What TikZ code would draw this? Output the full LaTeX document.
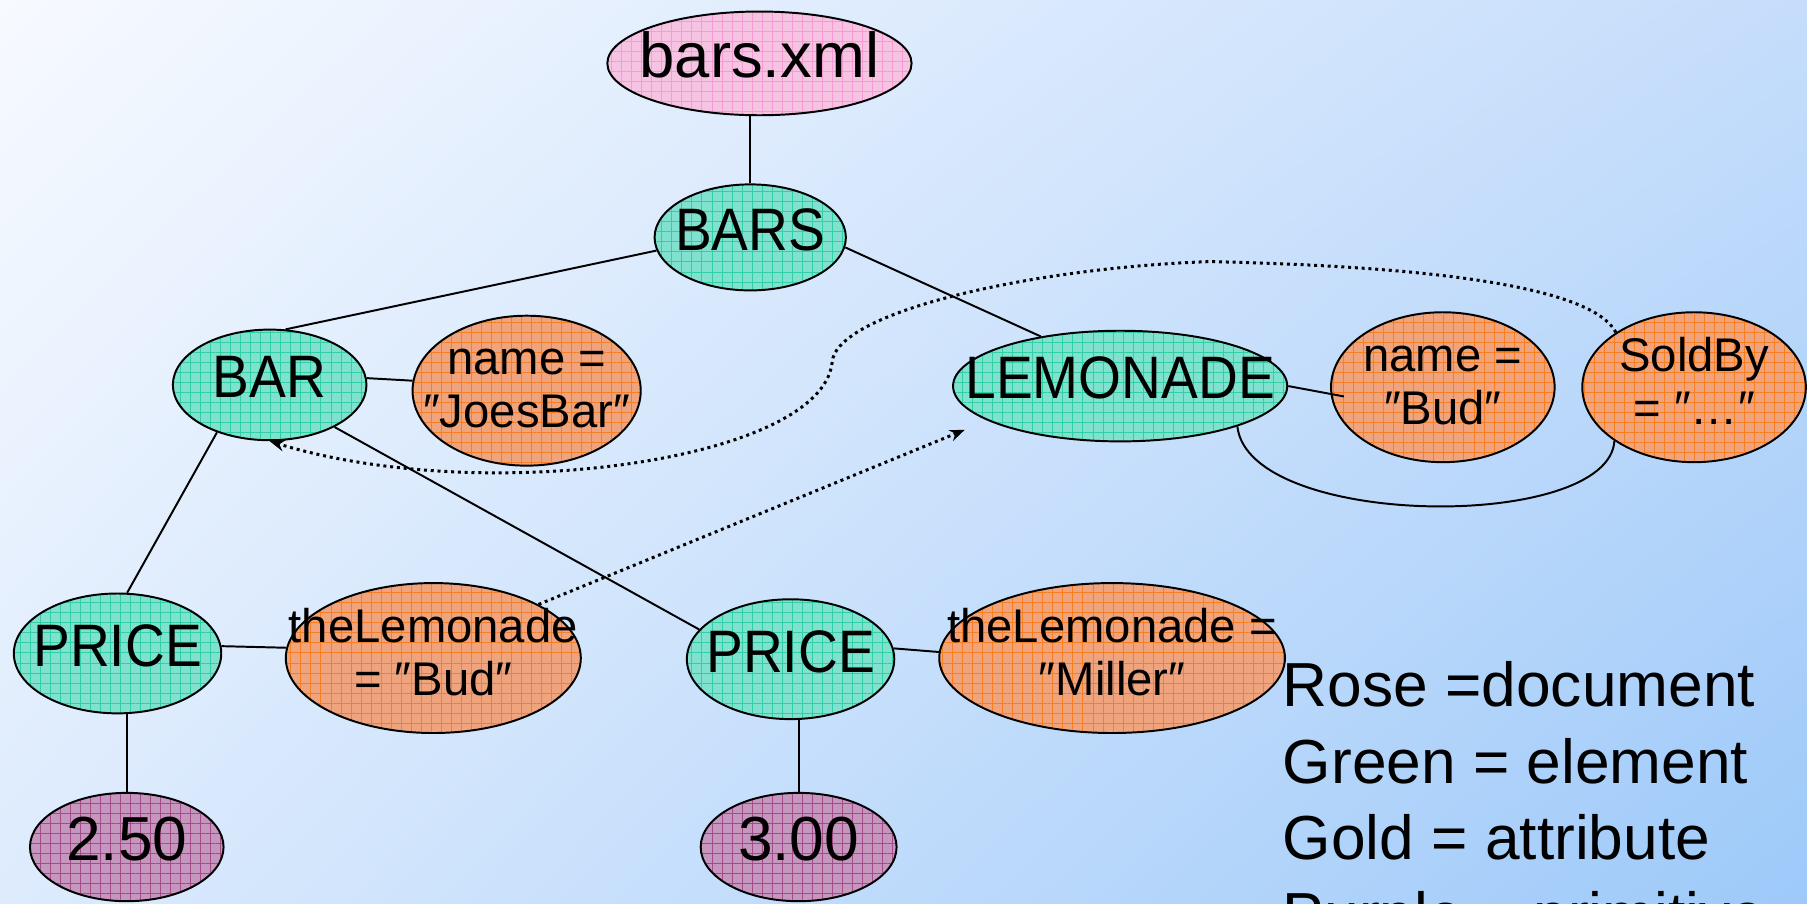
\documentclass[tikz,border=0pt]{standalone}
\usepackage{fontspec}
\setmainfont{Liberation Sans}
\newfontfamily\tagfont[FakeStretch=0.92]{Liberation Sans}
\usetikzlibrary{shapes.geometric, patterns.meta, arrows.meta, shadings}

\definecolor{bgul}{HTML}{F7FAFF}
\definecolor{bgur}{HTML}{C5DDFB}
\definecolor{bgll}{HTML}{DDEBFD}
\definecolor{bglr}{HTML}{9DC9F9}
\definecolor{rosefill}{HTML}{F7C3E3}
\definecolor{rosegrid}{HTML}{F59BD2}
\definecolor{elemfill}{HTML}{80E2CE}
\definecolor{elemgrid}{HTML}{30CFA6}
\definecolor{attrfill}{HTML}{EFA47E}
\definecolor{attrgrid}{HTML}{F87E22}
\definecolor{primfill}{HTML}{C596BE}
\definecolor{primgrid}{HTML}{A44C8A}

\newcommand{\lbl}[1]{\makebox[0pt]{\begin{tabular}{@{}c@{}}#1\end{tabular}}}

\begin{document}
\begin{tikzpicture}[x=1pt, y=-1pt, >={Stealth[length=13pt,width=10pt]},
  oval/.style={ellipse, draw, line width=1.7pt, inner sep=0pt},
  tone/.style 2 args={preaction={fill=#1},
    pattern={Hatch[angle=0,distance=8.7pt,line width=0.6pt]}, pattern color=#2},
  docnode/.style={oval, tone={rosefill}{rosegrid}, font=\fontsize{55}{60}\selectfont},
  elem/.style={oval, tone={elemfill}{elemgrid}, font=\tagfont\fontsize{52}{56}\selectfont},
  attr/.style={oval, tone={attrfill}{attrgrid}, font=\fontsize{41}{46}\selectfont},
  prim/.style={oval, tone={primfill}{primgrid}, font=\fontsize{54}{58}\selectfont},
  tie/.style={line width=1.7pt},
  link/.style={line width=2.6pt, dash pattern=on 2.6pt off 3.3pt}]

  \useasboundingbox (0,0) rectangle (1568,784);
  \clip (0,0) rectangle (1568,784);
  \shade[upper left=bgul, upper right=bgur, lower left=bgll, lower right=bglr]
    (0,0) rectangle (1568,784);

  \node[docnode, minimum width=264pt, minimum height=90pt]  (doc)     at (659,55)   {\lbl{bars.xml}};
  \node[elem, minimum width=166pt, minimum height=92pt]     (bars)    at (651,206)  {\lbl{BARS}};
  \node[elem, minimum width=168pt, minimum height=96pt]     (bar)     at (234,334)  {\lbl{BAR}};
  \node[attr, minimum width=198pt, minimum height=128pt]    (joes)    at (457,339)  {\lbl{name =\\″JoesBar″}};
  \node[elem, minimum width=290pt, minimum height=96pt]     (lem)     at (972,335)  {\lbl{LEMONADE}};
  \node[attr, minimum width=194pt, minimum height=130pt]    (budname) at (1252,336) {\lbl{name =\\″Bud″}};
  \node[attr, minimum width=194pt, minimum height=130pt]    (sold)    at (1470,336) {\lbl{SoldBy\\= ″…″}};
  \node[elem, minimum width=180pt, minimum height=104pt]    (pricel)  at (102,567)  {\lbl{PRICE}};
  \node[attr, minimum width=256pt, minimum height=130pt]    (lembud)  at (376,571)  {\lbl{theLemonade\\= ″Bud″}};
  \node[elem, minimum width=180pt, minimum height=104pt]    (pricer)  at (686,572)  {\lbl{PRICE}};
  \node[attr, minimum width=300pt, minimum height=128pt]    (lemmil)  at (965,571)  {\lbl{theLemonade =\\″Miller″}};
  \node[prim, minimum width=168pt, minimum height=94pt]     (val1)    at (110,735)  {\lbl{2.50}};
  \node[prim, minimum width=170pt, minimum height=94pt]     (val2)    at (693,735)  {\lbl{3.00}};

  \node[anchor=base west, inner sep=0pt, font=\fontsize{54}{66.5}\selectfont] (key) at (1113,613)
    {\begin{tabular}[t]{@{}l@{}}Rose =document\\Green = element\\Gold = attribute\\Purple = primitive\end{tabular}};

  \path[tie] (bars.north)  edge (bars.north |- doc.south)
             (bars.188)    edge (bar.74)
             (bars.354)    edge (lem.148)
             (bar.4)       edge (joes.175)
             (bar.222)     edge (pricel.81)
             (bar.327)     edge (pricer.162)
             (pricel.4)    edge (lembud.176)
             (pricer.6)    edge (lemmil.178)
             (val1.north)  edge (val1.north |- pricel.south)
             (val2.north)  edge (val2.north |- pricer.south)
             (lem.east)    edge ([xshift=12pt,yshift=-8pt]budname.west);
  \draw[tie] (lem.341) .. controls +(10,89) and +(-5,79) .. (sold.214);

  \draw[link, ->] (lembud.27) -- ([xshift=11pt,yshift=-38pt]lem.west);
  \draw[link, ->] (sold.145) .. controls (1385,255) and (1280,232) .. (1050,227)
                  .. controls (900,232) and (724,270) .. (722,315)
                  .. controls (712,400) and (420,440) .. (bar.south);
\end{tikzpicture}
\end{document}
